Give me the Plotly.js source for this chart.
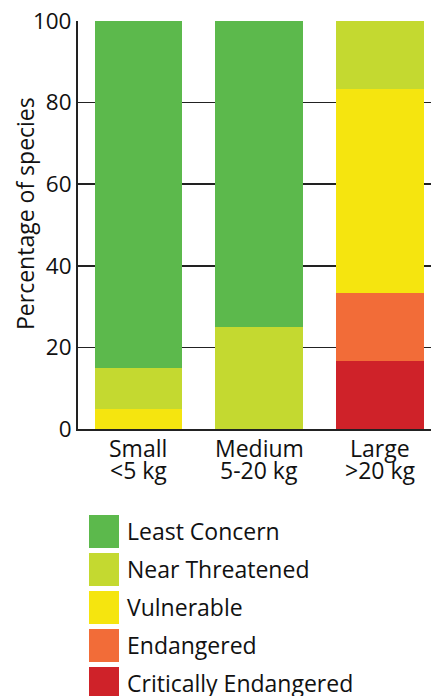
<!DOCTYPE html>
<html>
<head>
<meta charset="utf-8">
<script src="https://cdn.plot.ly/plotly-3.0.1.min.js"></script>
<style>html,body{margin:0;padding:0;background:#fff;}#chart{width:431px;height:696px;}</style>
</head>
<body>
<div id="chart"></div>
<script>
// Data
const categories = ["Small", "Medium", "Large"];
const categorySubLabels = ["<5 kg", "5-20 kg", ">20 kg"];
const statusNames = ["Critically Endangered", "Endangered", "Vulnerable", "Near Threatened", "Least Concern"];
const statusColors = ["#cf2229", "#f26c38", "#f5e50f", "#c4d930", "#5cb94c"];
const criticallyEndangered = [0, 0, 16.7];
const endangered = [0, 0, 16.6];
const vulnerable = [5, 0, 50];
const nearThreatened = [10, 25, 16.7];
const leastConcern = [85, 75, 0];
const seriesValues = [criticallyEndangered, endangered, vulnerable, nearThreatened, leastConcern];
const yTicks = [0, 20, 40, 60, 80, 100];
const yTitle = "Percentage of species";

const FONT = "'Open Sans', sans-serif";
const W = 431, H = 696;
const M = {l: 78, r: 0, t: 21, b: 267};
const plotW = W - M.l - M.r, plotH = H - M.t - M.b;
const px2x = p => (p - M.l) / plotW;
const px2y = p => (M.t + plotH - p) / plotH;

const traces = seriesValues.map((vals, i) => ({
  type: "bar",
  name: statusNames[i],
  x: categories,
  y: vals,
  marker: {color: statusColors[i], line: {width: 0}},
  showlegend: false,
  hoverinfo: "skip"
}));

const shapes = [];
const annotations = [];

// Two-line category labels
categories.forEach((c, i) => {
  annotations.push({
    xref: "x", yref: "paper", x: c, y: px2y(448),
    xanchor: "center", yanchor: "middle", showarrow: false,
    text: c, font: {family: FONT, size: 23, color: "#111"}
  });
  annotations.push({
    xref: "x", yref: "paper", x: c, y: px2y(470),
    xanchor: "center", yanchor: "middle", showarrow: false,
    text: categorySubLabels[i], font: {family: FONT, size: 23, color: "#111"}
  });
});

// Custom legend (large square swatches), top to bottom: Least Concern ... Critically Endangered
const legendOrder = statusNames.map((n, i) => i).reverse();
legendOrder.forEach((idx, row) => {
  const top = 515 + row * 38;
  shapes.push({
    type: "rect", xref: "paper", yref: "paper",
    x0: px2x(89), x1: px2x(119),
    y0: px2y(top + 33), y1: px2y(top),
    fillcolor: statusColors[idx], line: {width: 0}
  });
  annotations.push({
    xref: "paper", yref: "paper",
    x: px2x(125), y: px2y(top + 16),
    xanchor: "left", yanchor: "middle",
    text: statusNames[idx], showarrow: false,
    font: {family: FONT, size: 23, color: "#111"}
  });
});

// Y axis title as annotation
annotations.push({
  xref: "paper", yref: "paper",
  x: px2x(25), y: px2y(214),
  xanchor: "center", yanchor: "middle",
  text: yTitle, textangle: -90, showarrow: false,
  font: {family: FONT, size: 23, color: "#111"}
});

const layout = {
  width: W, height: H,
  margin: {l: M.l, r: M.r, t: M.t, b: M.b, pad: 0},
  paper_bgcolor: "#fff", plot_bgcolor: "#fff",
  barmode: "stack",
  bargap: 0.273,
  font: {family: FONT, color: "#111"},
  showlegend: false,
  xaxis: {
    type: "category",
    range: [-0.5, 2.42],
    showline: true, linecolor: "#222", linewidth: 2,
    ticks: "", showgrid: false, zeroline: false,
    showticklabels: false,
    fixedrange: true
  },
  yaxis: {
    range: [0, 100],
    tickvals: yTicks,
    showgrid: true, gridcolor: "#222", gridwidth: 1.5,
    showline: true, linecolor: "#222", linewidth: 2,
    zeroline: false, ticks: "",
    tickfont: {family: FONT, size: 22.5, color: "#111"},
    fixedrange: true
  },
  shapes: shapes,
  annotations: annotations
};

Plotly.newPlot("chart", traces, layout, {displayModeBar: false, staticPlot: true});
</script>
</body>
</html>
